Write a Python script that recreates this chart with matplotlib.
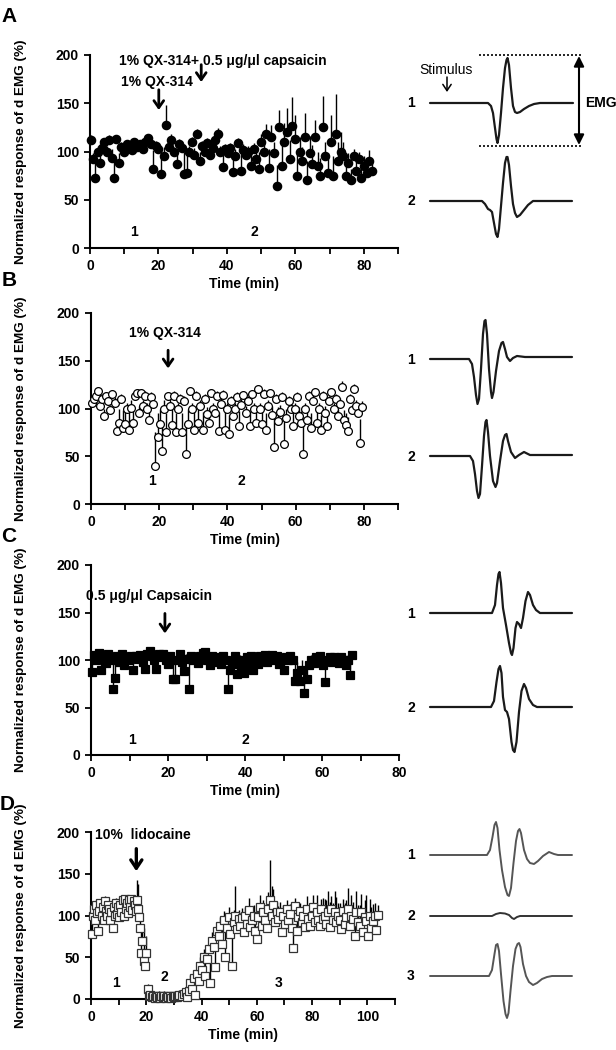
import matplotlib
matplotlib.use('Agg')
import matplotlib.pyplot as plt
import numpy as np

plt.rcParams['font.family'] = ['Liberation Sans', 'DejaVu Sans']

# ---------------------------------------------------------------- data
# Panel A: 1% QX-314 then QX-314 + capsaicin (filled circles)
a_time = [0.4, 1.0, 1.5, 2.2, 2.8, 3.5, 4.2, 5.0, 5.6, 6.4, 7.0, 7.7, 8.4, 9.2, 10.0,
          10.8, 11.5, 12.3, 13.0, 13.8, 14.6, 15.4, 16.2, 17.0, 17.8, 18.5, 19.3, 20.0,
          20.8, 21.5, 22.3, 23.0, 23.8, 24.5, 25.3, 26.0, 26.8, 27.5, 28.3, 29.0, 29.8,
          30.5, 31.3, 32.0, 32.8, 33.5, 34.3, 35.0, 35.8, 36.5, 37.3, 38.0, 38.8, 39.5,
          40.3, 41.0, 41.8, 42.5, 43.3, 44.0, 44.8, 45.5, 46.3, 47.0, 47.8, 48.5, 49.3,
          50.0, 50.8, 51.5, 52.3, 53.0, 53.8, 54.5, 55.3, 56.0, 56.8, 57.5, 58.3, 59.0,
          59.8, 60.5, 61.3, 62.0, 62.8, 63.5, 64.3, 65.0, 65.8, 66.5, 67.3, 68.0, 68.8,
          69.5, 70.3, 71.0, 71.8, 72.5, 73.3, 74.0, 74.8, 75.5, 76.3, 77.0, 77.8, 78.5,
          79.3, 80.0, 80.8, 81.5, 82.3]
a_resp = [112, 92, 73, 100, 88, 104, 110, 100, 112, 93, 73, 113, 88, 105, 100,
          108, 104, 102, 110, 105, 108, 103, 110, 114, 108, 82, 106, 103,
          77, 95, 127, 105, 112, 100, 87, 108, 104, 77, 78, 100, 110,
          96, 118, 90, 106, 100, 109, 96, 104, 112, 118, 100, 84, 103,
          98, 104, 79, 95, 109, 80, 102, 96, 100, 85, 103, 92, 82,
          110, 100, 118, 83, 115, 98, 64, 125, 85, 110, 120, 92, 126,
          113, 75, 100, 90, 115, 70, 98, 87, 115, 85, 75, 125, 95,
          78, 110, 75, 118, 90, 100, 95, 75, 88, 70, 95, 80, 92,
          73, 85, 78, 90, 80]
a_err = [5, 6, 18, 6, 8, 5, 4, 6, 5, 10, 20, 4, 10, 5, 6,
         4, 5, 6, 4, 5, 4, 5, 5, 3, 5, 20, 5, 5,
         22, 10, 21, 8, 6, 5, 12, 5, 6, 22, 20, 6, 5,
         8, 5, 10, 5, 6, 5, 8, 6, 5, 6, 6, 15, 5,
         6, 5, 20, 8, 5, 18, 6, 8, 6, 15, 6, 12, 18,
         8, 10, 10, 20, 12, 12, 22, 18, 25, 20, 25, 20, 30,
         25, 25, 15, 15, 25, 20, 18, 20, 18, 15, 18, 32, 15,
         20, 28, 20, 42, 20, 20, 15, 15, 10, 12, 8, 10, 8,
         12, 10, 12, 12, 8]

# Panel B: 1% QX-314 alone (open circles)
b_time = [0.3, 0.9, 1.5, 2.1, 2.7, 3.3, 3.9, 4.5, 5.1, 5.7, 6.3, 6.9, 7.5, 8.1, 8.7,
          9.3, 9.9, 10.5, 11.1, 11.7, 12.3, 12.9, 13.5, 14.1, 14.7, 15.3, 15.9, 16.5,
          17.1, 17.7, 18.3, 18.9, 19.5, 20.1, 20.7, 21.3, 21.9, 22.5, 23.1, 23.7, 24.3,
          24.9, 25.5, 26.1, 26.7, 27.3, 27.9, 28.5, 29.1, 29.7, 30.3, 30.9, 31.5, 32.1,
          32.7, 33.3, 33.9, 34.5, 35.1, 35.7, 36.3, 36.9, 37.5, 38.1, 38.7, 39.3, 39.9,
          40.5, 41.1, 41.7, 42.3, 42.9, 43.5, 44.1, 44.7, 45.3, 45.9, 46.5, 47.1, 47.7,
          48.3, 48.9, 49.5, 50.1, 50.7, 51.3, 51.9, 52.5, 53.1, 53.7, 54.3, 54.9, 55.5,
          56.1, 56.7, 57.3, 57.9, 58.5, 59.1, 59.7, 60.3, 60.9, 61.5, 62.1, 62.7, 63.3,
          63.9, 64.5, 65.1, 65.7, 66.3, 66.9, 67.5, 68.1, 68.7, 69.3, 69.9, 70.5, 71.1,
          71.7, 72.3, 72.9, 73.5, 74.1, 74.7, 75.3, 75.9, 76.5, 77.1, 77.7, 78.3, 78.9,
          79.5]
b_resp = [106, 110, 113, 118, 103, 110, 92, 113, 108, 98, 115, 106, 76, 85, 110,
          80, 84, 100, 77, 101, 85, 113, 116, 95, 116, 103, 113, 100,
          88, 112, 105, 40, 70, 84, 56, 99, 75, 113, 103, 83, 113,
          75, 100, 110, 75, 108, 52, 84, 118, 100, 78, 113, 85, 103,
          78, 110, 94, 85, 116, 100, 95, 113, 76, 105, 114, 78, 100,
          73, 108, 92, 100, 112, 82, 104, 114, 95, 108, 82, 115, 100,
          85, 120, 100, 84, 115, 77, 103, 116, 93, 60, 110, 87, 96,
          112, 63, 90, 108, 100, 82, 100, 112, 92, 85, 52, 100, 88,
          113, 80, 108, 117, 85, 100, 78, 113, 95, 82, 108, 117, 100,
          110, 92, 105, 123, 88, 83, 76, 110, 98, 120, 103, 95, 64,
          102]
b_err = [4, 5, 4, 4, 6, 5, 8, 4, 5, 6, 4, 6, 12, 15, 5,
         18, 15, 6, 20, 8, 15, 4, 4, 8, 4, 6, 5, 6,
         10, 5, 6, 35, 25, 15, 28, 10, 20, 4, 8, 18, 5,
         20, 6, 5, 20, 5, 30, 15, 4, 6, 18, 5, 15, 6,
         18, 5, 8, 12, 4, 6, 8, 5, 20, 6, 5, 18, 6,
         20, 5, 8, 6, 5, 15, 6, 4, 8, 5, 15, 4, 6,
         12, 4, 6, 15, 5, 18, 6, 4, 10, 30, 5, 15, 8,
         5, 30, 10, 5, 6, 15, 6, 5, 10, 12, 38, 6, 10,
         5, 15, 5, 4, 12, 6, 15, 5, 8, 12, 5, 4, 6,
         5, 8, 6, 6, 10, 12, 15, 5, 6, 6, 6, 8, 25,
         6]

# Panel C: 0.5 ug/ul capsaicin (filled squares)
c_time = [0.3, 0.8, 1.4, 2.0, 2.6, 3.2, 3.8, 4.4, 5.0, 5.6, 6.2, 6.8, 7.4, 8.0, 8.6,
          9.2, 9.8, 10.4, 11.0, 11.6, 12.2, 12.8, 13.4, 14.0, 14.6, 15.2, 15.8, 16.4,
          17.0, 17.6, 18.2, 18.8, 19.4, 20.0, 20.6, 21.2, 21.8, 22.4, 23.0, 23.6, 24.2,
          24.8, 25.4, 26.0, 26.6, 27.2, 27.8, 28.4, 29.0, 29.6, 30.2, 30.8, 31.4, 32.0,
          32.6, 33.2, 33.8, 34.4, 35.0, 35.6, 36.2, 36.8, 37.4, 38.0, 38.6, 39.2, 39.8,
          40.4, 41.0, 41.6, 42.2, 42.8, 43.4, 44.0, 44.6, 45.2, 45.8, 46.4, 47.0, 47.6,
          48.2, 48.8, 49.4, 50.0, 50.6, 51.2, 51.8, 52.4, 53.0, 53.6, 54.2, 54.8, 55.4,
          56.0, 56.6, 57.2, 57.8, 58.4, 59.0, 59.6, 60.2, 60.8, 61.4, 62.0, 62.6, 63.2,
          63.8, 64.4, 65.0, 65.6, 66.2, 66.8, 67.2, 67.8]
c_resp = [87, 105, 100, 107, 90, 103, 97, 106, 100, 70, 81, 104, 98, 106, 95,
          103, 100, 104, 90, 104, 101, 105, 98, 91, 106, 110, 104, 100,
          91, 106, 103, 106, 100, 96, 104, 80, 80, 100, 106, 98, 88,
          101, 70, 104, 100, 103, 97, 104, 107, 108, 100, 95, 104, 98,
          103, 100, 96, 104, 100, 70, 90, 96, 104, 85, 100, 93, 86,
          103, 95, 104, 90, 100, 96, 104, 100, 105, 98, 103, 105, 100,
          104, 96, 102, 90, 103, 100, 104, 100, 78, 86, 78, 90, 65,
          80, 95, 100, 97, 103, 100, 104, 95, 77, 100, 103, 98, 103,
          100, 97, 103, 100, 95, 100, 84, 105]
c_err = [12, 4, 5, 3, 10, 4, 5, 3, 5, 28, 20, 4, 5, 3, 6,
         4, 5, 4, 12, 4, 5, 4, 5, 10, 3, 3, 4, 5,
         10, 4, 4, 4, 5, 6, 4, 20, 20, 5, 3, 5, 10,
         5, 30, 4, 5, 4, 5, 4, 3, 3, 5, 6, 4, 5,
         4, 5, 6, 4, 5, 30, 12, 8, 4, 12, 5, 8, 10,
         4, 6, 4, 8, 5, 6, 4, 5, 4, 5, 4, 4, 5,
         4, 6, 4, 10, 4, 5, 4, 5, 18, 12, 15, 10, 25,
         15, 6, 5, 6, 4, 5, 4, 6, 20, 5, 4, 5, 4,
         5, 5, 4, 5, 6, 5, 12, 4]

# Panel D: 10% lidocaine (open squares)
d_time = [0.2, 0.6, 1.0, 1.4, 1.8, 2.2, 2.6, 3.0, 3.4, 3.8, 4.2, 4.6, 5.0, 5.4, 5.8,
          6.2, 6.6, 7.0, 7.4, 7.8, 8.2, 8.6, 9.0, 9.4, 9.8, 10.2, 10.6, 11.0, 11.4,
          11.8, 12.2, 12.6, 13.0, 13.4, 13.8, 14.2, 14.6, 15.0, 15.4, 15.8, 16.2, 16.6,
          17.0, 17.4, 17.8, 18.2, 18.6, 19.0, 19.4, 19.8, 20.5, 21.0, 21.5, 22.0, 22.5,
          23.0, 23.5, 24.0, 24.5, 25.0, 25.5, 26.0, 26.5, 27.0, 27.5, 28.0, 28.5, 29.0,
          29.5, 30.0, 30.5, 31.0, 31.5, 32.0, 33.0, 33.6, 34.2, 34.8, 35.4, 36.0, 36.6,
          37.2, 37.8, 38.4, 39.0, 39.6, 40.2, 40.8, 41.4, 42.0, 42.6, 43.2, 43.8, 44.4,
          45.0, 45.6, 46.2, 46.8, 47.4, 48.0, 48.6, 49.2, 49.8, 50.4, 51.0, 51.6, 52.2,
          52.8, 53.4, 54.0, 54.6, 55.2, 55.8, 56.4, 57.0, 57.6, 58.2, 58.8, 59.4, 60.0,
          60.6, 61.2, 61.8, 62.4, 63.0, 63.6, 64.2, 64.8, 65.4, 66.0, 66.6, 67.2, 67.8,
          68.4, 69.0, 69.6, 70.2, 70.8, 71.4, 72.0, 72.6, 73.2, 73.8, 74.4, 75.0, 75.6,
          76.2, 76.8, 77.4, 78.0, 78.6, 79.2, 79.8, 80.4, 81.0, 81.6, 82.2, 82.8, 83.4,
          84.0, 84.6, 85.2, 85.8, 86.4, 87.0, 87.6, 88.2, 88.8, 89.4, 90.0, 90.6, 91.2,
          91.8, 92.4, 93.0, 93.6, 94.2, 94.8, 95.4, 96.0, 96.6, 97.2, 97.8, 98.4, 99.0,
          99.6, 100.2, 100.8, 101.4, 102.0, 102.6, 103.2, 103.8]
d_resp = [78, 100, 108, 95, 112, 103, 82, 105, 115, 100, 110, 95, 117, 105, 100,
          112, 108, 95, 104, 85, 110, 100, 115, 102, 110, 98, 112, 104, 118,
          100, 120, 108, 115, 103, 118, 110, 120, 106, 117, 112, 105, 118,
          108, 98, 85, 55, 70, 45, 40, 55, 12, 3, 5, 2, 4,
          1, 3, 2, 4, 1, 3, 2, 4, 1, 3, 2, 3, 1,
          3, 2, 4, 2, 3, 5, 4, 6, 8, 2, 10, 19, 12,
          25, 5, 30, 22, 40, 35, 50, 28, 48, 60, 19, 70, 62,
          38, 81, 75, 88, 66, 95, 50, 85, 98, 78, 40, 92, 100,
          84, 96, 88, 97, 80, 100, 90, 106, 86, 95, 100, 82, 72,
          98, 110, 88, 104, 95, 85, 108, 119, 100, 112, 92, 104, 96,
          104, 80, 100, 90, 108, 95, 102, 85, 61, 111, 81, 98, 105,
          92, 100, 86, 108, 96, 88, 100, 110, 92, 104, 95, 88, 108,
          96, 100, 90, 104, 86, 108, 95, 104, 92, 100, 95, 84, 105,
          90, 98, 108, 88, 100, 96, 75, 104, 92, 88, 104, 80, 98,
          94, 75, 100, 85, 94, 100, 83, 101]
d_err = [15, 8, 6, 10, 6, 8, 15, 8, 5, 8, 6, 10, 6, 8, 8,
         6, 6, 10, 8, 12, 6, 8, 6, 8, 6, 8, 6, 8, 5,
         8, 5, 6, 6, 8, 5, 6, 5, 8, 6, 10, 15, 25,
         30, 20, 15, 30, 20, 40, 20, 20, 6, 5, 8, 6, 5,
         6, 5, 6, 5, 6, 5, 6, 5, 6, 5, 6, 5, 6,
         5, 6, 5, 6, 5, 6, 6, 5, 6, 5, 8, 10, 8,
         10, 15, 10, 12, 10, 12, 10, 15, 12, 10, 25, 10, 12,
         20, 10, 12, 10, 20, 10, 30, 15, 12, 20, 40, 15, 35,
         10, 10, 15, 12, 15, 10, 12, 15, 12, 15, 12, 15, 15,
         12, 15, 12, 15, 12, 15, 20, 48, 35, 20, 15, 12, 15,
         12, 12, 12, 15, 10, 12, 12, 15, 20, 10, 15, 12, 10,
         15, 12, 10, 15, 12, 15, 12, 15, 12, 20, 12, 15, 12,
         25, 20, 28, 25, 30, 15, 20, 25, 30, 15, 20, 20, 15,
         25, 20, 25, 20, 25, 20, 20, 25, 20, 25, 22, 25, 20,
         30, 25, 20, 25, 20, 15, 15, 12]

# Example EMG sweeps (x offset / deflection, in pixels of the trace area)
a1_x = [0, 58, 61, 63, 65, 66.5, 67.5, 69, 71, 73, 75, 76.5, 77.5, 79, 81, 83, 85, 87, 90, 94, 99, 104, 110, 143]
a1_y = [0, 0, -3, -10, -25, -36, -40, -32, -10, 15, 35, 43, 45, 38, 15, -3, -9, -10, -9, -6, -3, -1, 0, 0]
a2_x = [0, 52, 55, 58, 60, 62, 64, 66, 67.5, 69, 71, 73, 75, 76.5, 77.5, 79, 81, 83, 85, 87, 90, 94, 98, 103, 142]
a2_y = [0, 0, -3, -8, -9, -11, -22, -33, -36, -28, -5, 18, 38, 44, 44, 36, 15, -3, -12, -16, -14, -9, -4, 0, 0]
b1_x = [0, 39, 42, 44, 46, 47.5, 49, 51, 53, 54.5, 55.5, 57, 59, 61, 62, 63.5, 66, 69, 71.5, 73, 75, 77, 80, 83, 87, 95, 105, 142]
b1_y = [0, 0, -5, -18, -36, -45, -40, -10, 25, 38, 39, 25, -10, -33, -39, -33, -12, 8, 16, 17, 10, 2, -2, 1, 3, 2, 2, 2]
b2_x = [0, 40, 43, 45, 47, 48.5, 50, 52, 54, 55.5, 56.5, 58, 60, 63, 65.5, 67, 70, 73, 75, 76.5, 78, 81, 85, 89, 94, 100, 142]
b2_y = [0, 0, -5, -18, -35, -42, -38, -10, 20, 34, 36, 24, 0, -25, -31, -27, -5, 15, 21, 22, 15, 4, -2, 1, 4, 1, 1]
c1_x = [0, 62, 65, 67, 68.5, 69.5, 71, 73, 76, 79, 81, 82, 83.5, 85.5, 87, 89, 91, 93, 95.5, 98, 100, 103, 106, 110, 142]
c1_y = [0, 0, 8, 28, 39, 41, 30, 5, -12, -30, -40, -42, -35, -15, -9, -11, -15, -5, 12, 21, 18, 8, 3, 0, 0]
c2_x = [0, 61, 64, 66.5, 68.5, 70, 71.5, 73, 75, 77, 79, 81.5, 83, 84.5, 86.5, 89, 91.5, 94, 96, 99, 103, 107, 142]
c2_y = [0, 0, 6, 25, 38, 41, 34, 10, -3, -5, -12, -35, -43, -45, -35, -5, 16, 23, 19, 8, 2, 0, 0]
d1_x = [0, 57, 60, 62.5, 64.5, 66, 67.5, 69.5, 72, 75, 77.5, 79, 81, 83.5, 86, 88, 89.5, 91, 94, 97, 100, 104, 108, 113, 119, 124, 128, 142]
d1_y = [0, 0, 5, 18, 30, 33, 27, 5, -15, -32, -40, -41, -33, -8, 14, 24, 26, 22, 5, -4, -8, -9, -6, -1, 3, 1, 0, 0]
d2_x = [0, 62, 66, 70, 75, 79, 82, 84, 87, 90, 142]
d2_y = [0, 0, 2, 3, 2.5, 1, -2, -3, -1, 0, 0]
d3_x = [0, 59, 62, 64.5, 66, 67.5, 69, 71, 73.5, 75.5, 77, 78.5, 80.5, 83, 85.5, 87.5, 89, 90.5, 93, 96, 99, 103, 107, 112, 117, 122, 142]
d3_y = [0, 0, 6, 22, 31, 32, 25, 2, -25, -38, -42, -37, -15, 10, 27, 32, 33, 29, 12, 0, -6, -9, -7, -3, -1, 0, 0]

YLABEL = 'Normalized response of d EMG (%)'
W, H = 616, 1050

fig = plt.figure(figsize=(W / 100, H / 100), dpi=100)

# overlay in pixel units for the sweeps on the right
ov = fig.add_axes([0, 0, 1, 1], zorder=0)
ov.set_xlim(0, W)
ov.set_ylim(H, 0)
ov.axis('off')
ov.patch.set_alpha(0)


def px_rect(left, top, right, bottom):
    return [left / W, 1 - bottom / H, (right - left) / W, (bottom - top) / H]


def draw_panel(rect, t, y, err, xmax, marker, face, edge, ms):
    ax = fig.add_axes(rect, zorder=2)
    t = np.asarray(t)
    y = np.asarray(y, dtype=float)
    err = np.asarray(err, dtype=float)
    ax.vlines(t, y, y + err, colors='black', lw=1.0, zorder=2)
    ax.plot(t, y, ls='none', marker=marker, ms=ms, mfc=face, mec=edge,
            mew=0.9, zorder=3, clip_on=False)
    ax.set_xlim(0, xmax)
    ax.set_ylim(0, 200)
    ax.set_xticks(range(0, xmax + 1, 20))
    ax.set_xticks(range(10, xmax + 1, 20), minor=True)
    ax.set_yticks([0, 50, 100, 150, 200])
    for s in ['top', 'right']:
        ax.spines[s].set_visible(False)
    for s in ['left', 'bottom']:
        ax.spines[s].set_linewidth(1.5)
    ax.tick_params(which='both', direction='out', length=4, width=1.3,
                   labelsize=10, pad=4)
    for lab in ax.get_xticklabels() + ax.get_yticklabels():
        lab.set_fontweight('bold')
    ax.set_xlabel('Time (min)', fontsize=10, fontweight='bold', labelpad=3)
    ax.patch.set_alpha(0)
    pos = ax.get_position()
    fig.text(21 / W, pos.y0 + pos.height / 2, YLABEL, rotation=90, ha='center',
             va='center', fontsize=9.7, fontweight='bold')
    return ax


def arrow(ax, x, ytop, ytip, lw=2.0, hl=0.5, hw=0.35):
    ax.annotate('', xy=(x, ytip), xytext=(x, ytop),
                arrowprops=dict(arrowstyle='->,head_length=%s,head_width=%s' % (hl, hw),
                                lw=lw, color='black', shrinkA=0, shrinkB=0))


def sweep(x0, base, dx, dy, color='#1a1a1a', lw=1.6):
    ov.plot(np.asarray(dx) + x0, base - np.asarray(dy), color=color, lw=lw,
            solid_joinstyle='round', solid_capstyle='round')


def tag(x, y, s):
    ov.text(x, y, s, ha='center', va='center', fontsize=10, fontweight='bold')


# ---------------------------------------------------------------- panel A
axA = draw_panel(px_rect(90, 55, 398, 248), a_time, a_resp, a_err, 90,
                 'o', 'black', 'black', 6.0)
axA.text(38.7, 194, '1% QX-314+ 0.5 μg/μl capsaicin', ha='center', va='center',
         fontsize=10, fontweight='bold')
arrow(axA, 32.5, 190, 172)
axA.text(19.5, 172, '1% QX-314', ha='center', va='center', fontsize=10, fontweight='bold')
arrow(axA, 20.1, 164, 143)
axA.text(12.8, 16.5, '1', ha='center', va='center', fontsize=10, fontweight='bold')
axA.text(48, 16.5, '2', ha='center', va='center', fontsize=10, fontweight='bold')

# ---------------------------------------------------------------- panel B
axB = draw_panel(px_rect(91, 313, 398, 504), b_time, b_resp, b_err, 90,
                 'o', 'white', 'black', 5.6)
axB.text(21.7, 179, '1% QX-314', ha='center', va='center', fontsize=10, fontweight='bold')
arrow(axB, 22.6, 161, 142)
axB.text(18, 24, '1', ha='center', va='center', fontsize=10, fontweight='bold')
axB.text(44, 24, '2', ha='center', va='center', fontsize=10, fontweight='bold')

# ---------------------------------------------------------------- panel C
axC = draw_panel(px_rect(91, 565, 399, 755), c_time, c_resp, c_err, 80,
                 's', 'black', 'black', 5.3)
axC.text(15.1, 167, '0.5 μg/μl Capsaicin', ha='center', va='center',
         fontsize=10, fontweight='bold')
arrow(axC, 19.2, 149, 128)
axC.text(10.6, 16, '1', ha='center', va='center', fontsize=10, fontweight='bold')
axC.text(40.2, 16, '2', ha='center', va='center', fontsize=10, fontweight='bold')

# ---------------------------------------------------------------- panel D
axD = draw_panel(px_rect(91, 832, 395, 999), d_time, d_resp, d_err, 110,
                 's', 'white', '#333333', 5.6)
axD.text(18.7, 196, '10%  lidocaine', ha='center', va='center', fontsize=10,
         fontweight='bold')
arrow(axD, 16.4, 180, 153, lw=2.4, hl=0.6, hw=0.4)
axD.text(9.2, 19, '1', ha='center', va='center', fontsize=10, fontweight='bold')
axD.text(26.6, 26, '2', ha='center', va='center', fontsize=10, fontweight='bold')
axD.text(67.9, 19, '3', ha='center', va='center', fontsize=10, fontweight='bold')

# ---------------------------------------------------------------- sweeps
sweep(430, 103, a1_x, a1_y)
sweep(430, 201, a2_x, a2_y)
tag(411, 103, '1')
tag(411, 201, '2')
ov.plot([479, 581], [55, 55], ls=(0, (1.2, 1.2)), color='black', lw=1.2)
ov.plot([479, 581], [146, 146], ls=(0, (1.2, 1.2)), color='black', lw=1.2)
ov.annotate('', xy=(579, 56), xytext=(579, 145),
            arrowprops=dict(arrowstyle='<|-|>,head_length=0.6,head_width=0.3',
                            lw=1.5, color='black', shrinkA=0, shrinkB=0))
ov.text(585, 103, 'EMG', ha='left', va='center', fontsize=10, fontweight='bold')
ov.text(446, 70, 'Stimulus', ha='center', va='center', fontsize=10)
ov.annotate('', xy=(447, 92), xytext=(447, 77),
            arrowprops=dict(arrowstyle='->,head_length=0.45,head_width=0.3',
                            lw=1.1, color='black', shrinkA=0, shrinkB=0))

sweep(430, 359, b1_x, b1_y)
sweep(430, 456, b2_x, b2_y)
tag(411, 360, '1')
tag(411, 457, '2')

sweep(430, 613, c1_x, c1_y)
sweep(430, 707, c2_x, c2_y)
tag(411, 614, '1')
tag(411, 708, '2')

sweep(430, 855, d1_x, d1_y, color='#555555', lw=1.4)
sweep(430, 916, d2_x, d2_y, color='#333333', lw=1.4)
sweep(430, 976, d3_x, d3_y, color='#555555', lw=1.4)
tag(411, 855, '1')
tag(411, 916, '2')
tag(411, 976, '3')

# ---------------------------------------------------------------- panel letters
for letter, xpx, ypx in [('A', 9, 17), ('B', 9, 281), ('C', 9, 536), ('D', 7, 804)]:
    fig.text(xpx / W, 1 - ypx / H, letter, ha='center', va='center',
             fontsize=15, fontweight='bold')

fig.savefig('out.png', dpi=100)
